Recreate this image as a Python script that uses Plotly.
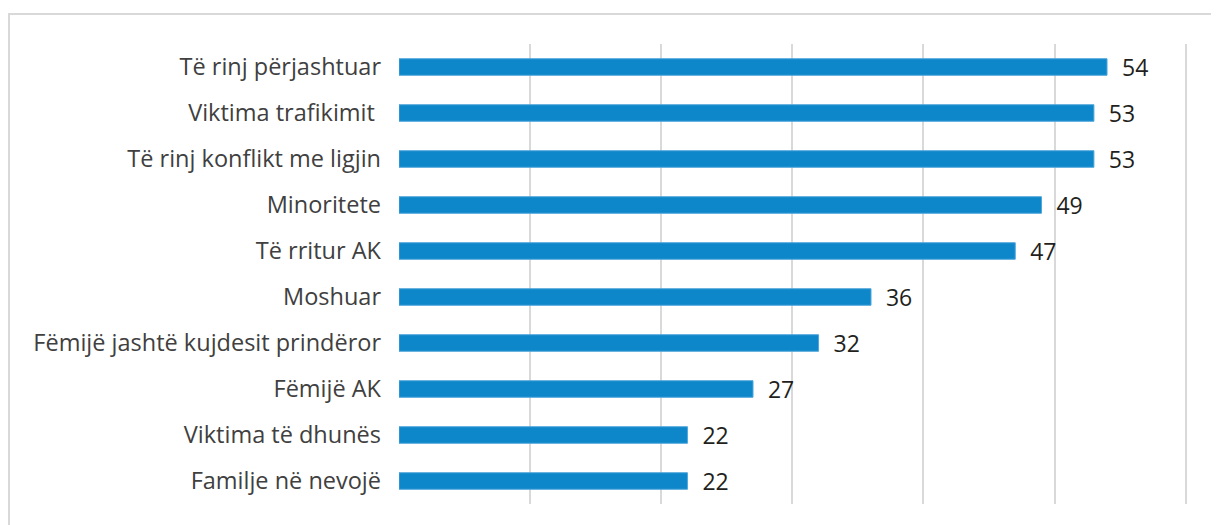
import plotly.graph_objects as go

categories = [
    "Të rinj përjashtuar",
    "Viktima trafikimit\u00a0",
    "Të rinj konflikt me ligjin",
    "Minoritete",
    "Të rritur AK",
    "Moshuar",
    "Fëmijë jashtë kujdesit prindëror",
    "Fëmijë AK",
    "Viktima të dhunës",
    "Familje në nevojë",
]
values = [54, 53, 53, 49, 47, 36, 32, 27, 22, 22]
x_ticks = [0, 10, 20, 30, 40, 50, 60]
caption = "Burimi: Të dhëna të mbledhura nga njësitë e vetëqeverisjes vendore"

FONT = "Open Sans"

# The page has an 8px body margin; size the figure so the plot area lands
# at window pixels x 399..1186, y 44..504.
fig = go.Figure(
    go.Bar(
        x=values,
        y=categories,
        orientation="h",
        width=0.36,
        marker=dict(color="#0d87c9", line=dict(color="#4fa6dc", width=1)),
        text=values,
        texttemplate="\u00a0\u00a0%{text}",
        textposition="outside",
        constraintext="none",
        cliponaxis=False,
        textfont=dict(family=FONT, size=23, color="#231f20"),
        hoverinfo="skip",
    )
)

fig.update_layout(
    width=1211,
    height=517,
    margin=dict(l=391, r=32, t=36, b=21),
    paper_bgcolor="white",
    plot_bgcolor="white",
    showlegend=False,
    bargap=0.64,
    xaxis=dict(
        range=[0, 60.1],
        tickvals=x_ticks,
        showticklabels=False,
        showgrid=True,
        gridcolor="#d9d9d9",
        gridwidth=1.5,
        zeroline=False,
        showline=False,
        fixedrange=True,
    ),
    yaxis=dict(
        autorange="reversed",
        showgrid=False,
        zeroline=False,
        showline=False,
        ticks="",
        ticklabelstandoff=17,
        tickfont=dict(family=FONT, size=23.5, color="#404040"),
        fixedrange=True,
    ),
    shapes=[
        dict(
            type="rect",
            xref="paper",
            yref="paper",
            x0=(9 - 399) / 788,
            x1=(1240 - 399) / 788,
            y0=(504 - 540) / 460,
            y1=(504 - 14) / 460,
            line=dict(color="#d9d9d9", width=2),
            fillcolor="rgba(0,0,0,0)",
            layer="below",
        )
    ],
    annotations=[
        dict(
            text=caption,
            xref="paper",
            yref="paper",
            x=(10 - 399) / 788,
            y=(504 - 518) / 460,
            xanchor="left",
            yanchor="top",
            showarrow=False,
            font=dict(family=FONT, size=17, color="#404040"),
        )
    ],
)

fig.write_html("out.html")
